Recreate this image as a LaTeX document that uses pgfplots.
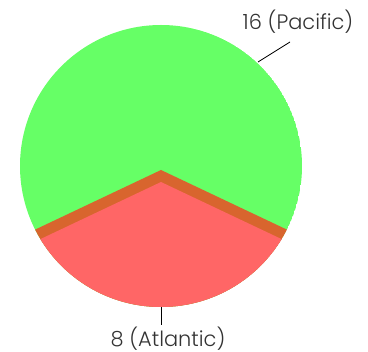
\documentclass[border=0pt]{standalone}
\usepackage{pgfplots}
\pgfplotsset{compat=1.18}
\usepackage{fontspec}
\setmainfont{Poppins}[UprightFont=* Light]
\definecolor{pac}{RGB}{102,255,102}
\definecolor{atl}{RGB}{255,102,102}
\definecolor{band}{RGB}{216,101,46}
\begin{document}
\begin{tikzpicture}
% data
\def\vPac{16}
\def\vAtl{8}
\def\k{0.82}% vertical foreshortening of the slice edges (tilted view)
\pgfmathsetmacro{\aAtl}{\vAtl/(\vPac+\vAtl)*360}
\pgfmathsetmacro{\sA}{270-\aAtl/2}
\pgfmathsetmacro{\eA}{270+\aAtl/2}
\pgfmathsetmacro{\dxL}{300*cos(\sA)}
\pgfmathsetmacro{\dyL}{300*\k*sin(\sA)}
\pgfmathsetmacro{\dxR}{300*cos(\eA)}
\pgfmathsetmacro{\dyR}{300*\k*sin(\eA)}
\begin{axis}[
  width=368bp, height=352bp, scale only axis,
  xmin=0, xmax=368, ymin=0, ymax=352,
  hide axis, clip=false]
  \begin{scope}
    \clip (axis cs:161,186) circle[radius=141bp];
    % Pacific (green)
    \fill[pac] (axis cs:161,186) circle[radius=141bp];
    % Atlantic side wall
    \fill[band] (axis cs:161,182) -- (axis cs:{161+\dxL},{182+\dyL}) -- (axis cs:{161+\dxL},-200)
      -- (axis cs:{161+\dxR},-200) -- (axis cs:{161+\dxR},{182+\dyR}) -- cycle;
    % Atlantic (red)
    \fill[atl] (axis cs:161,170) -- (axis cs:{161+\dxL},{170+\dyL}) -- (axis cs:{161+\dxL},-200)
      -- (axis cs:{161+\dxR},-200) -- (axis cs:{161+\dxR},{170+\dyR}) -- cycle;
  \end{scope}
  % leaders and labels
  \draw[black, line width=0.8bp] (axis cs:258,290) -- (axis cs:290,310);
  \draw[black, line width=0.8bp] (axis cs:161,45) -- (axis cs:161,27);
  \node[anchor=base, inner sep=0pt, text=black!80] at (axis cs:298,322) {\fontsize{21}{25}\selectfont \vPac\ (Pacific)};
  \node[anchor=base, inner sep=0pt, text=black!80] at (axis cs:168,6) {\fontsize{21}{25}\selectfont \vAtl\ (Atlantic)};
\end{axis}
\pgfresetboundingbox
\path[use as bounding box] (0,0) rectangle (368bp,352bp);
\end{tikzpicture}
\end{document}
